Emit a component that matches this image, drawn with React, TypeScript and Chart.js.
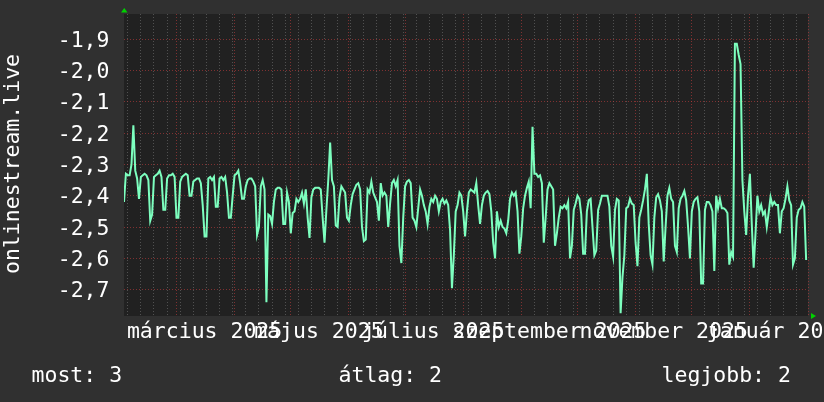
import React, { useEffect, useRef } from 'react';
import { Chart, registerables } from 'chart.js';

Chart.register(...registerables);

// Daily values, day 0 = 2025-02-01 … day 364
const VALUES: number[] = [
  -2.42, -2.33, -2.335, -2.335, -2.30, -2.175, -2.32, -2.345, -2.41, -2.34,
  -2.335, -2.33, -2.335, -2.35, -2.48, -2.46, -2.34, -2.335, -2.33, -2.32,
  -2.34, -2.445, -2.445, -2.345, -2.335, -2.335, -2.33, -2.34, -2.47, -2.47,
  -2.355, -2.34, -2.335, -2.33, -2.335, -2.40, -2.40, -2.355, -2.35, -2.345,
  -2.345, -2.36, -2.43, -2.53, -2.53, -2.345, -2.34, -2.35, -2.34, -2.435,
  -2.435, -2.345, -2.34, -2.35, -2.34, -2.39, -2.47, -2.47, -2.40, -2.335,
  -2.33, -2.32, -2.36, -2.41, -2.41, -2.37, -2.35, -2.345, -2.345, -2.355,
  -2.37, -2.525, -2.50, -2.37, -2.35, -2.38, -2.74, -2.46, -2.465, -2.49,
  -2.42, -2.38, -2.375, -2.375, -2.38, -2.49, -2.49, -2.39, -2.42, -2.52,
  -2.455, -2.45, -2.41, -2.42, -2.41, -2.39, -2.425, -2.38, -2.47, -2.535,
  -2.405, -2.38, -2.375, -2.375, -2.375, -2.38, -2.47, -2.55, -2.445, -2.35,
  -2.23, -2.35, -2.37, -2.495, -2.50, -2.405, -2.37, -2.38, -2.39, -2.47,
  -2.48, -2.43, -2.395, -2.38, -2.365, -2.36, -2.38, -2.50, -2.545, -2.54,
  -2.38, -2.39, -2.355, -2.39, -2.405, -2.42, -2.48, -2.36, -2.40, -2.39,
  -2.40, -2.50, -2.425, -2.36, -2.35, -2.37, -2.35, -2.56, -2.615, -2.47,
  -2.37, -2.355, -2.35, -2.36, -2.47, -2.48, -2.50, -2.44, -2.38, -2.40,
  -2.43, -2.45, -2.49, -2.435, -2.41, -2.42, -2.40, -2.41, -2.45, -2.42,
  -2.41, -2.425, -2.415, -2.43, -2.51, -2.695, -2.59, -2.45, -2.43, -2.39,
  -2.40, -2.45, -2.53, -2.45, -2.39, -2.38, -2.385, -2.39, -2.36, -2.43,
  -2.49, -2.43, -2.40, -2.39, -2.385, -2.395, -2.45, -2.55, -2.60, -2.45,
  -2.50, -2.48, -2.50, -2.505, -2.52, -2.48, -2.41, -2.39, -2.40, -2.39,
  -2.45, -2.585, -2.53, -2.44, -2.40, -2.375, -2.355, -2.44, -2.18, -2.33,
  -2.33, -2.34, -2.335, -2.36, -2.55, -2.47, -2.38, -2.36, -2.37, -2.38,
  -2.56, -2.52, -2.47, -2.435, -2.44, -2.43, -2.44, -2.42, -2.60, -2.56,
  -2.445, -2.425, -2.40, -2.41, -2.46, -2.585, -2.585, -2.45, -2.415, -2.41,
  -2.50, -2.59, -2.575, -2.445, -2.425, -2.40, -2.40, -2.40, -2.40, -2.435,
  -2.56, -2.595, -2.445, -2.41, -2.415, -2.775, -2.66, -2.59, -2.44, -2.435,
  -2.41, -2.425, -2.43, -2.55, -2.625, -2.47, -2.445, -2.415, -2.38, -2.33,
  -2.49, -2.59, -2.62, -2.47, -2.405, -2.395, -2.415, -2.45, -2.61, -2.50,
  -2.40, -2.375, -2.41, -2.42, -2.56, -2.58, -2.44, -2.41, -2.40, -2.385,
  -2.415, -2.50, -2.60, -2.45, -2.42, -2.41, -2.405, -2.45, -2.68, -2.68,
  -2.445, -2.42, -2.42, -2.43, -2.45, -2.64, -2.40, -2.44, -2.41, -2.44,
  -2.44, -2.445, -2.455, -2.62, -2.58, -2.595, -1.915, -1.915, -1.95, -1.98,
  -2.35, -2.45, -2.525, -2.40, -2.33, -2.49, -2.63, -2.52, -2.40, -2.45,
  -2.43, -2.46, -2.45, -2.50, -2.455, -2.405, -2.43, -2.42, -2.43, -2.43,
  -2.52, -2.45, -2.44, -2.41, -2.37, -2.415, -2.43, -2.62, -2.60, -2.47,
  -2.445, -2.44, -2.42, -2.435, -2.605,
];

const Y_TICKS = [-2.7, -2.6, -2.5, -2.4, -2.3, -2.2, -2.1, -2.0, -1.9];
const Y_TICK_LABELS = ['-2,7', '-2,6', '-2,5', '-2,4', '-2,3', '-2,2', '-2,1', '-2,0', '-1,9'];
const Y_MIN = -2.784;
const Y_MAX = -1.82;

const X_MIN_DAY = 0;
const X_MAX_DAY = 365;
const MONTH_START_DAYS = [28, 59, 89, 120, 150, 181, 212, 242, 273, 303, 334, 365];
const FIRST_MONDAY_DAY = 2;
const X_LABEL_DAYS = [43, 104, 165, 227, 288, 349];
const X_LABELS = ['március 2025', 'május 2025', 'július 2025', 'szeptember 2025', 'november 2025', 'január 2026'];

const LEGEND_TEXTS = ['most: 3', 'átlag: 2', 'legjobb: 2'];
const AXIS_TITLE = 'onlinestream.live';

const FONT = '21.5px "DejaVu Sans Mono"';
const TEXT_COLOR = '#ffffff';
const OUTER_BG = '#303030';
const PLOT_BG = '#212121';
const LINE_COLOR = '#7dffbf';
const MAJOR_GRID = 'rgba(190, 60, 60, 0.6)';
const MINOR_GRID = 'rgba(140, 140, 140, 0.45)';
const ARROW_COLOR = '#00d000';

export default function App() {
  const canvasRef = useRef<HTMLCanvasElement | null>(null);

  useEffect(() => {
    const canvas = canvasRef.current;
    if (!canvas) return;

    const weekDays: number[] = [];
    for (let d = FIRST_MONDAY_DAY; d <= X_MAX_DAY; d += 7) weekDays.push(d);
    const xTicks: { value: number; major: boolean }[] = [];
    weekDays.forEach((d) => {
      if (!MONTH_START_DAYS.includes(d)) xTicks.push({ value: d, major: false });
    });
    MONTH_START_DAYS.forEach((d) => xTicks.push({ value: d, major: true }));
    xTicks.sort((a, b) => a.value - b.value);

    const bgPlugin = {
      id: 'bg',
      beforeDraw(chart: any) {
        const { ctx, chartArea } = chart;
        ctx.save();
        ctx.fillStyle = OUTER_BG;
        ctx.fillRect(0, 0, chart.width, chart.height);
        ctx.fillStyle = PLOT_BG;
        ctx.fillRect(chartArea.left, chartArea.top, chartArea.right - chartArea.left, chartArea.bottom - chartArea.top);
        ctx.restore();
      },
    };

    const textPlugin = {
      id: 'texts',
      afterDraw(chart: any) {
        const { ctx } = chart;
        const xs = chart.scales.x;
        const ys = chart.scales.y;
        ctx.save();
        ctx.fillStyle = TEXT_COLOR;
        ctx.font = FONT;
        ctx.textBaseline = 'alphabetic';

        // y tick labels
        ctx.textAlign = 'right';
        Y_TICKS.forEach((v, i) => {
          const y = ys.getPixelForValue(v);
          ctx.fillText(Y_TICK_LABELS[i], 109.5, y + 7.7);
        });

        // x labels
        ctx.textAlign = 'center';
        X_LABEL_DAYS.forEach((d, i) => {
          ctx.fillText(X_LABELS[i], xs.getPixelForValue(d), 338);
        });

        // legend
        ctx.textAlign = 'left';
        const legendX = [31.5, 338.5, 661.5];
        LEGEND_TEXTS.forEach((t, i) => ctx.fillText(t, legendX[i], 381.5));

        // vertical axis title
        ctx.save();
        ctx.translate(18.5, 164);
        ctx.rotate(-Math.PI / 2);
        ctx.textAlign = 'center';
        ctx.fillText(AXIS_TITLE, 0, 0);
        ctx.restore();

        // arrows
        ctx.fillStyle = ARROW_COLOR;
        const top = chart.chartArea.top;
        const left = chart.chartArea.left;
        ctx.beginPath();
        ctx.moveTo(left - 3, top - 1.5);
        ctx.lineTo(left + 3.5, top - 1.5);
        ctx.lineTo(left + 0.25, top - 6);
        ctx.closePath();
        ctx.fill();
        const right = chart.chartArea.right;
        const bottom = chart.chartArea.bottom;
        ctx.beginPath();
        ctx.moveTo(right + 3, bottom - 3);
        ctx.lineTo(right + 3, bottom + 3);
        ctx.lineTo(right + 8, bottom);
        ctx.closePath();
        ctx.fill();
        ctx.restore();
      },
    };

    const chart = new Chart(canvas, {
      type: 'line',
      data: {
        datasets: [
          {
            data: VALUES.map((v, i) => ({ x: i, y: v })),
            borderColor: LINE_COLOR,
            borderWidth: 2,
            pointRadius: 0,
            tension: 0,
            fill: false,
          },
        ],
      },
      options: {
        responsive: false,
        animation: false,
        events: [],
        layout: { padding: { left: 124, top: 14, right: 16, bottom: 86 } },
        plugins: { legend: { display: false }, tooltip: { enabled: false } },
        scales: {
          x: {
            type: 'linear',
            bounds: 'data',
            min: X_MIN_DAY,
            max: X_MAX_DAY,
            afterBuildTicks: (scale: any) => {
              scale.ticks = xTicks.map((t) => ({ value: t.value, major: t.major }));
            },
            ticks: { display: false },
            grid: {
              drawTicks: false,
              lineWidth: 1,
              color: (ctx: any) => (ctx.tick && ctx.tick.major ? MAJOR_GRID : MINOR_GRID),
            },
            border: { display: false, dash: [1, 2] },
          },
          y: {
            type: 'linear',
            bounds: 'data',
            min: Y_MIN,
            max: Y_MAX,
            afterBuildTicks: (scale: any) => {
              scale.ticks = Y_TICKS.map((v) => ({ value: v }));
            },
            ticks: { display: false },
            grid: { drawTicks: false, lineWidth: 1, color: MAJOR_GRID },
            border: { display: false, dash: [1, 2] },
          },
        },
      } as any,
      plugins: [bgPlugin, textPlugin],
    });

    return () => chart.destroy();
  }, []);

  return (
    <div style={{ position: 'absolute', left: 0, top: 0, width: 824, height: 402 }}>
      <canvas ref={canvasRef} width={824} height={402} style={{ display: 'block' }} />
    </div>
  );
}
